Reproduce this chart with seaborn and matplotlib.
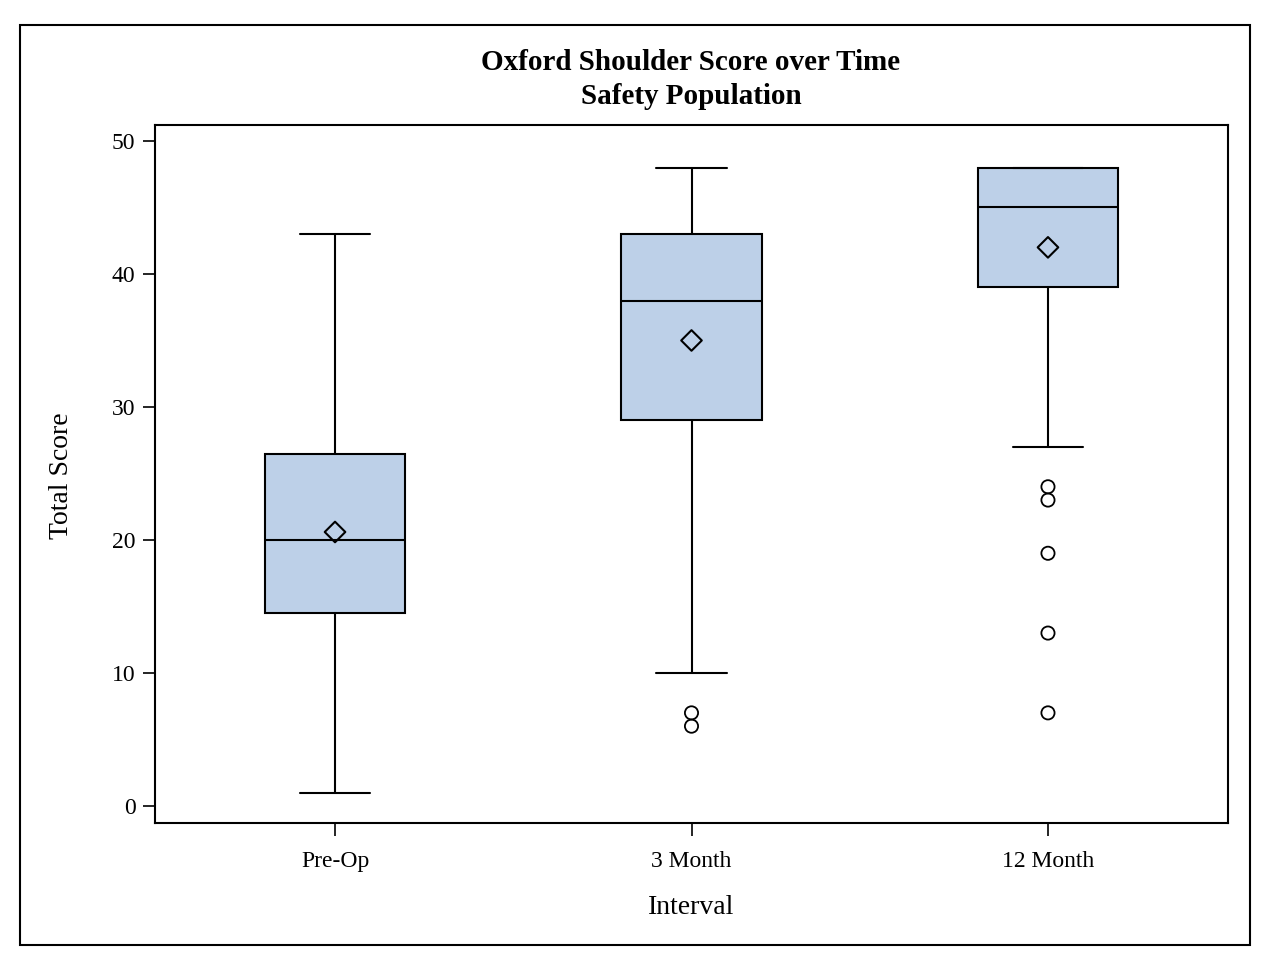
import matplotlib
matplotlib.use("Agg")
import matplotlib.pyplot as plt
import seaborn as sns
import pandas as pd
from matplotlib.patches import Rectangle

# Summary statistics
intervals = ["Pre-Op", "3 Month", "12 Month"]
whisker_low = [1, 10, 27]
q1 = [14.5, 29, 39]
medians = [20, 38, 45]
q3 = [26.5, 43, 48]
whisker_high = [43, 48, 48]
means = [20.6, 35, 42]
outlier_interval = ["3 Month", "3 Month", "12 Month", "12 Month", "12 Month", "12 Month", "12 Month"]
outlier_values = [7, 6, 24, 23, 19, 13, 7]

sns.set_style("white")
plt.rcParams["font.family"] = ["Liberation Serif", "DejaVu Serif"]
plt.rcParams["text.color"] = "black"
plt.rcParams["axes.labelcolor"] = "black"

box_color = "#bdd0e8"

fig = plt.figure(figsize=(12.74, 9.66), dpi=100)
ax = fig.add_axes([155 / 1274, 1 - 823 / 966, (1228 - 155) / 1274, (823 - 125) / 966])

stats = []
for i, name in enumerate(intervals):
    stats.append({
        "label": name,
        "whislo": whisker_low[i],
        "q1": q1[i],
        "med": medians[i],
        "q3": q3[i],
        "whishi": whisker_high[i],
        "fliers": [],
    })

ax.bxp(stats, positions=range(len(intervals)), widths=0.395, patch_artist=True,
       showfliers=False, showmeans=False,
       boxprops=dict(facecolor=box_color, edgecolor="black", linewidth=1.5),
       medianprops=dict(color="black", linewidth=1.5),
       whiskerprops=dict(color="black", linewidth=1.5),
       capprops=dict(color="black", linewidth=1.5),
       capwidths=0.197)

mean_df = pd.DataFrame({"pos": range(len(intervals)), "mean": means})
sns.scatterplot(data=mean_df, x="pos", y="mean", marker="D", s=110,
                facecolor="none", edgecolor="black", linewidth=1.5, ax=ax, zorder=5)

out_df = pd.DataFrame({"pos": [intervals.index(n) for n in outlier_interval],
                       "value": outlier_values})
sns.scatterplot(data=out_df, x="pos", y="value", marker="o", s=90,
                facecolor="none", edgecolor="black", linewidth=1.3, ax=ax, zorder=5)

ax.set_xlim(-0.505, 2.505)
ax.set_ylim(-1.28, 51.2)
ax.set_xticks(range(len(intervals)))
ax.set_xticklabels(intervals)
ax.set_yticks([0, 10, 20, 30, 40, 50])
ax.tick_params(axis="both", direction="out", length=9, width=1.2, labelsize=17,
               color="black", labelcolor="black", bottom=True, left=True)
ax.tick_params(axis="x", pad=11)
ax.tick_params(axis="y", pad=5)
for sp in ax.spines.values():
    sp.set_color("black")
    sp.set_linewidth(1.5)

ax.set_xlabel("Interval", fontsize=20)
ax.set_ylabel("Total Score", fontsize=20)
ax.xaxis.label.set_va("center")
ax.yaxis.label.set_va("center")
ax.xaxis.set_label_coords(0.5, (823 - 908) / 698)
ax.yaxis.set_label_coords((62 - 155) / 1073, (823 - 476) / 698)

title_x = 691 / 1274
fig.text(title_x, 1 - 62 / 966, "Oxford Shoulder Score over Time", ha="center", va="center",
         fontsize=21, fontweight="bold")
fig.text(title_x, 1 - 97 / 966, "Safety Population", ha="center", va="center",
         fontsize=21, fontweight="bold")

fig.patches.append(Rectangle((20 / 1274, 1 - 945 / 966), 1230 / 1274, 920 / 966,
                             transform=fig.transFigure, fill=False,
                             edgecolor="black", linewidth=1.5))

fig.savefig("out.png", dpi=100)
